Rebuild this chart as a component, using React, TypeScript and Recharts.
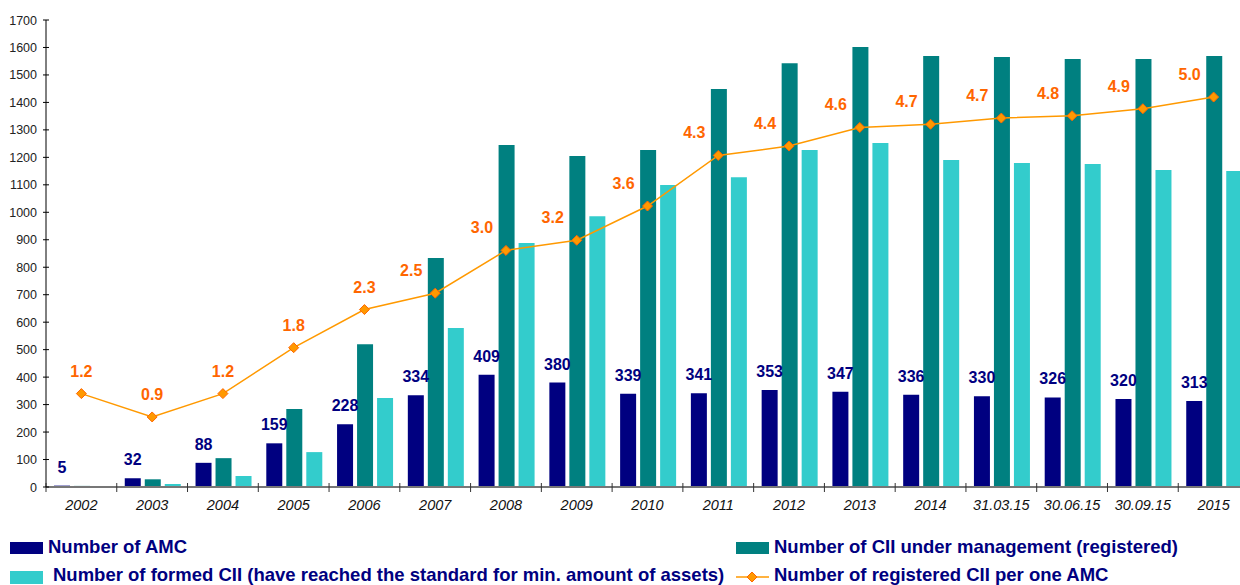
import { ComposedChart, Bar, Line, XAxis, YAxis, LabelList } from "recharts";

const categories = [
  "2002", "2003", "2004", "2005", "2006", "2007", "2008", "2009", "2010",
  "2011", "2012", "2013", "2014", "31.03.15", "30.06.15", "30.09.15", "2015",
];
const amcCount = [5, 32, 88, 159, 228, 334, 409, 380, 339, 341, 353, 347, 336, 330, 326, 320, 313];
const ciiRegistered = [4, 28, 105, 284, 520, 834, 1245, 1205, 1227, 1449, 1543, 1602, 1569, 1565, 1558, 1558, 1569];
const ciiFormed = [0, 11, 40, 127, 324, 579, 888, 986, 1099, 1128, 1227, 1252, 1190, 1179, 1176, 1154, 1150];
const ciiPerAmc = [1.2, 0.9, 1.2, 1.79, 2.28, 2.49, 3.04, 3.17, 3.61, 4.26, 4.38, 4.62, 4.66, 4.74, 4.77, 4.86, 5.01];
const yTicks = [0, 100, 200, 300, 400, 500, 600, 700, 800, 900, 1000, 1100, 1200, 1300, 1400, 1500, 1600, 1700];

const NAVY = "#000080";
const TEAL = "#008080";
const CYAN = "#33CCCC";
const LINE_ORANGE = "#FF9900";
const LABEL_ORANGE = "#FF6600";
const FONT = "'Liberation Sans', Arial, sans-serif";

const CHART_W = 1249;
const Y_AXIS_W = 46;
const STEP = (CHART_W - Y_AXIS_W) / categories.length;

const data = categories.map((cat, i) => ({
  cat,
  amc: amcCount[i],
  registered: ciiRegistered[i],
  formed: ciiFormed[i],
  ratio: ciiPerAmc[i],
}));

function YTick({ x, y, payload }: any) {
  return (
    <g>
      <line x1={x - 3} x2={x + 3} y1={y} y2={y} stroke="#000" />
      <text x={x - 9} y={y + 4.5} textAnchor="end" fontSize={12.5} fill="#222" fontFamily={FONT}>
        {payload.value}
      </text>
    </g>
  );
}

function XTick({ x, y, payload }: any) {
  const left = x - STEP / 2;
  return (
    <g>
      <line x1={left} x2={left} y1={y - 4} y2={y + 5} stroke="#333" />
      <text x={x} y={y + 23} textAnchor="middle" fontSize={14.5} fontStyle="italic" fill="#111" fontFamily={FONT}>
        {payload.value}
      </text>
    </g>
  );
}

function AmcLabel({ x, y, width, value }: any) {
  return (
    <text x={x + width / 2} y={y - 13} textAnchor="middle" fontSize={16} fontWeight="bold" fill={NAVY} fontFamily={FONT}>
      {value}
    </text>
  );
}

// from 2007 on Excel put the labels up and to the left of the marker
function RatioLabel({ x, y, value, index }: any) {
  const dx = index >= 5 ? -24 : 0;
  return (
    <text x={x + dx} y={y - 17} textAnchor="middle" fontSize={16} fontWeight="bold" fill={LABEL_ORANGE} fontFamily={FONT}>
      {Number(value).toFixed(1)}
    </text>
  );
}

function Diamond({ cx, cy, index }: any) {
  if (cx == null || cy == null) return null;
  return (
    <path
      key={`d-${index}`}
      d={`M${cx},${cy - 5} L${cx + 5},${cy} L${cx},${cy + 5} L${cx - 5},${cy} Z`}
      fill={LINE_ORANGE}
      stroke={LABEL_ORANGE}
      strokeWidth={1}
    />
  );
}

function LegendBox() {
  const txt = { fontSize: 18.5, fontWeight: "bold" as const, fill: NAVY, fontFamily: FONT };
  return (
    <svg width={1240} height={585} style={{ position: "absolute", left: 0, top: 0, pointerEvents: "none" }}>
      <rect x={10} y={542} width={33} height={12} fill={NAVY} />
      <text x={48} y={553} {...txt}>Number of AMC</text>
      <rect x={736} y={542} width={33} height={12} fill={TEAL} />
      <text x={774} y={553} {...txt}>Number of CII under management (registered)</text>
      <rect x={10} y={571} width={33} height={13} fill={CYAN} />
      <text x={53} y={581} {...txt}>Number of formed CII (have reached the standard for min. amount of assets)</text>
      <line x1={736} x2={769} y1={577} y2={577} stroke={LINE_ORANGE} strokeWidth={1.5} />
      <path d="M752,572 L757,577 L752,582 L747,577 Z" fill={LINE_ORANGE} stroke={LABEL_ORANGE} />
      <text x={774} y={581} {...txt}>Number of registered CII per one AMC</text>
    </svg>
  );
}

export default function App() {
  return (
    <div style={{ position: "absolute", left: 0, top: 0, width: 1240, height: 585, overflow: "hidden", background: "#fff" }}>
      <ComposedChart
        width={CHART_W}
        height={520}
        data={data}
        margin={{ top: 20, right: 0, bottom: 3, left: 0 }}
        barCategoryGap={8}
        barGap={4}
      >
        <XAxis
          dataKey="cat"
          interval={0}
          height={30}
          tickLine={false}
          tickSize={0}
          tickMargin={0}
          axisLine={{ stroke: "#777", strokeWidth: 2 }}
          tick={<XTick />}
        />
        <YAxis
          yAxisId="left"
          width={Y_AXIS_W}
          domain={[0, 1700]}
          ticks={yTicks}
          interval={0}
          tickLine={false}
          tickSize={0}
          tickMargin={0}
          axisLine={{ stroke: "#000" }}
          tick={<YTick />}
        />
        <YAxis yAxisId="right" orientation="right" hide domain={[0, 6]} />
        <Bar yAxisId="left" dataKey="amc" fill={NAVY} isAnimationActive={false}>
          <LabelList dataKey="amc" content={<AmcLabel />} />
        </Bar>
        <Bar yAxisId="left" dataKey="registered" fill={TEAL} isAnimationActive={false} />
        <Bar yAxisId="left" dataKey="formed" fill={CYAN} isAnimationActive={false} />
        <Line
          yAxisId="right"
          dataKey="ratio"
          stroke={LINE_ORANGE}
          strokeWidth={1.5}
          dot={<Diamond />}
          activeDot={false}
          isAnimationActive={false}
        >
          <LabelList dataKey="ratio" content={<RatioLabel />} />
        </Line>
      </ComposedChart>
      <LegendBox />
    </div>
  );
}
